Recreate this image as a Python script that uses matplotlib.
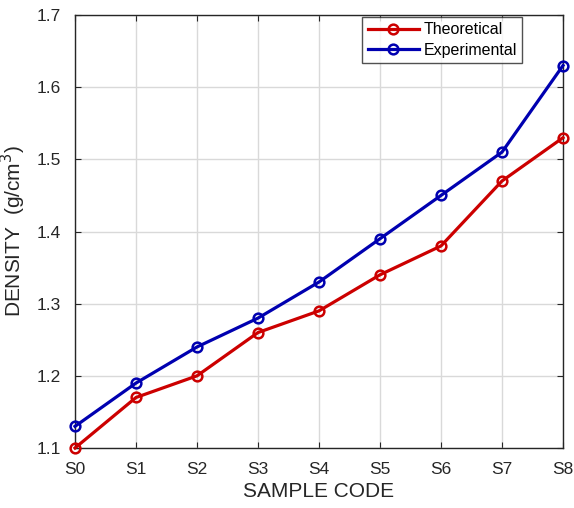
import matplotlib.pyplot as plt

samples = ["S0", "S1", "S2", "S3", "S4", "S5", "S6", "S7", "S8"]
theoretical = [1.10, 1.17, 1.20, 1.26, 1.29, 1.34, 1.38, 1.47, 1.53]
experimental = [1.13, 1.19, 1.24, 1.28, 1.33, 1.39, 1.45, 1.51, 1.63]

plt.rcParams['font.family'] = ['Liberation Sans', 'DejaVu Sans']

fig = plt.figure(figsize=(5.74, 5.08), dpi=100)
ax = fig.add_axes([75 / 574, 1 - 448 / 508, (563 - 75) / 574, (448 - 15) / 508])

x = list(range(len(samples)))
ax.plot(x, theoretical, color="#cc0000", lw=2.3, marker="o", ms=7,
        mfc="none", mec="#cc0000", mew=1.8, label="Theoretical", clip_on=False, zorder=3)
ax.plot(x, experimental, color="#0000b0", lw=2.3, marker="o", ms=7,
        mfc="none", mec="#0000b0", mew=1.8, label="Experimental", clip_on=False, zorder=3)

ax.set_xlim(0, 8)
ax.set_ylim(1.1, 1.7)
ax.set_xticks(x)
ax.set_xticklabels(samples)
ax.set_yticks([1.1, 1.2, 1.3, 1.4, 1.5, 1.6, 1.7])
ax.grid(True, color="#d9d9d9", lw=1)
ax.set_axisbelow(True)
ax.tick_params(direction="in", top=True, right=True, labelsize=12.5, colors="#262626",
               length=4)
ax.tick_params(axis="x", pad=10)
ax.tick_params(axis="y", pad=10)
for s in ax.spines.values():
    s.set_color("#262626")
    s.set_linewidth(1)

ax.set_xlabel("SAMPLE CODE", fontsize=15, color="#262626", labelpad=4)
ax.set_ylabel("DENSITY  (g/cm$^3$)", fontsize=15, color="#262626", labelpad=6)

leg = ax.legend(loc="upper right", bbox_to_anchor=((524 - 75) / 488, 1.0),
                fontsize=11.5, frameon=True, fancybox=False, edgecolor="#262626",
                borderaxespad=0.1, handlelength=3.2, borderpad=0.35, labelspacing=0.35,
                handletextpad=0.3)
leg.get_frame().set_linewidth(1)

fig.savefig("out.png", dpi=100)
